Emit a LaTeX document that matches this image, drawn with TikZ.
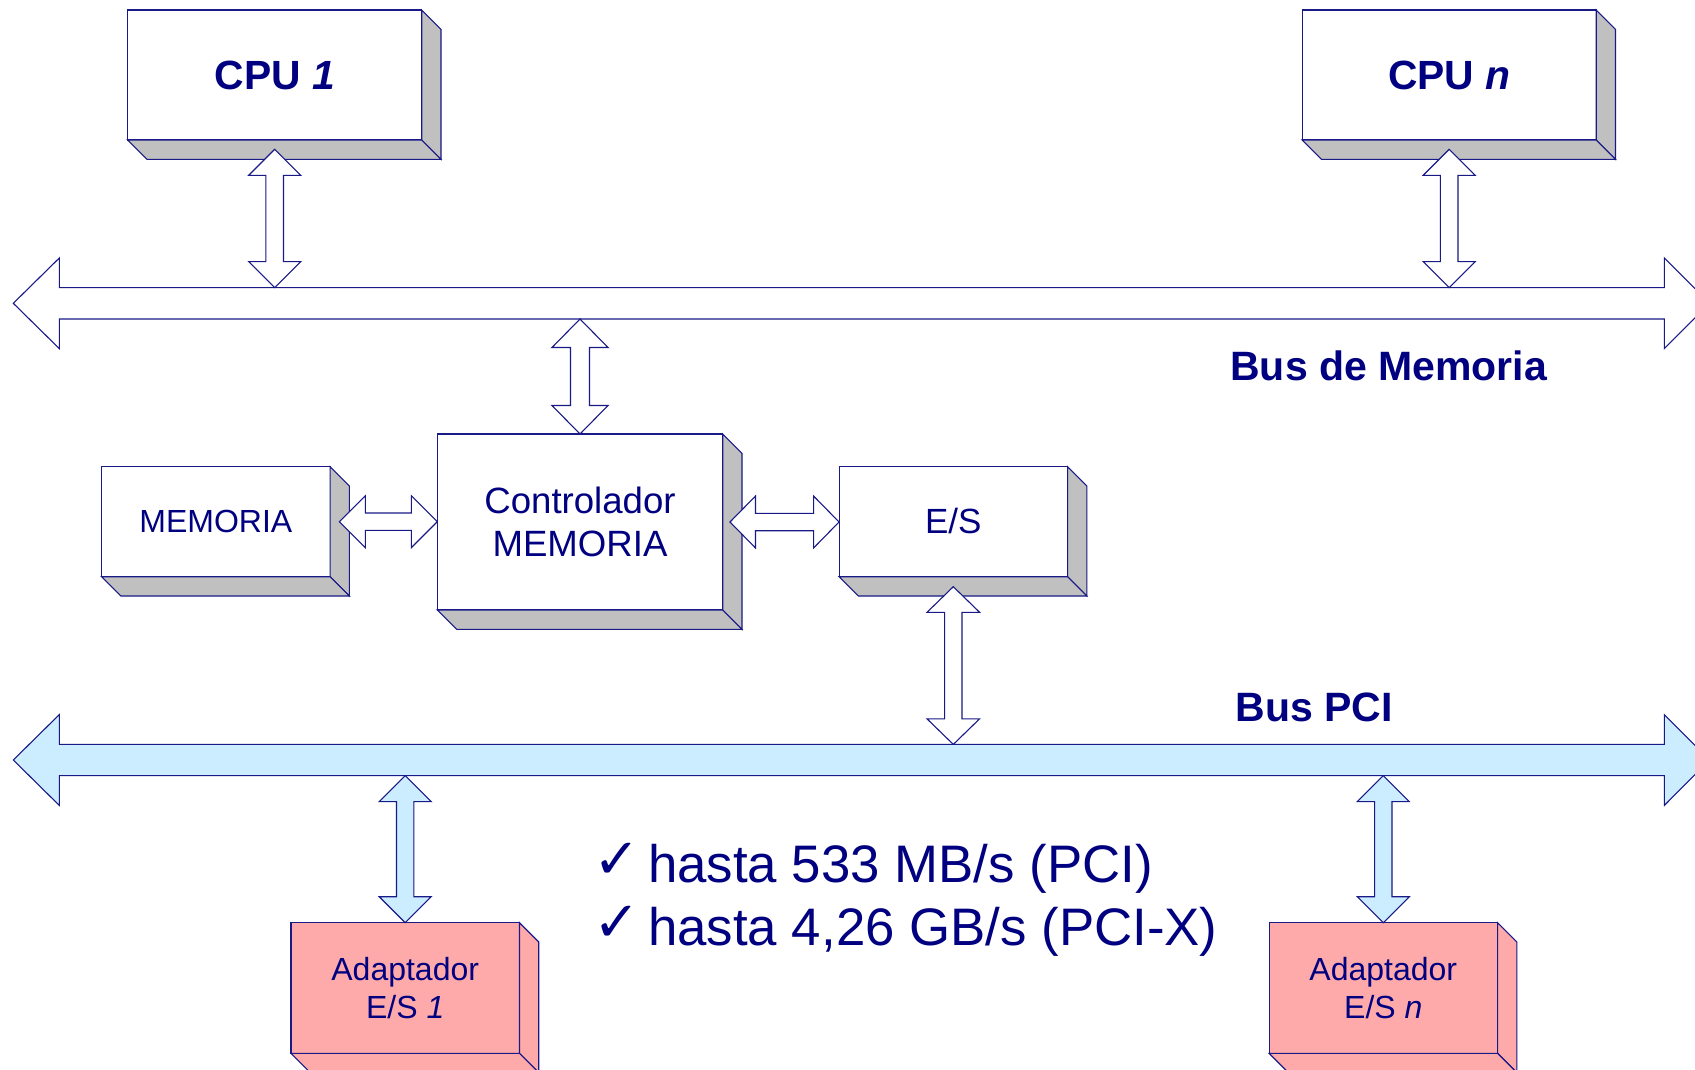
\documentclass[tikz,border=0pt]{standalone}
\usepackage{fontspec}
\setmainfont{Liberation Sans}
\newfontfamily\chkfont{DejaVu Sans}
\usetikzlibrary{calc}
\definecolor{navy}{RGB}{0,0,128}
\definecolor{edge}{RGB}{25,25,135}
\definecolor{shade}{RGB}{192,192,192}
\definecolor{pcib}{RGB}{204,236,255}
\definecolor{pinkbox}{RGB}{255,170,170}
\newcommand\fsz[2]{\fontsize{#1pt}{#2pt}\selectfont}
% 3D side faces of a box node: #1 node name, #2 fill colour
\newcommand\sidefaces[2]{%
  \filldraw[edgeline, fill=#2] (#1.north east) -- ++(19.3pt,-19.3pt)
     -- ([shift={(19.3pt,-19.3pt)}]#1.south east) -- (#1.south east) -- cycle;
  \filldraw[edgeline, fill=#2] (#1.south west) -- (#1.south east)
     -- ([shift={(19.3pt,-19.3pt)}]#1.south east)
     -- ([shift={(19.3pt,-19.3pt)}]#1.south west) -- cycle;
}
% vertical double block arrow: #1 style, #2 top tip, #3 bottom tip, #4 head length, #5 head half width, #6 shaft half width
\newcommand\vbiarrow[6]{%
  \draw[#1] let \p1=#2, \p2=#3 in
    (\x1,\y1) -- (\x1+#5,\y1-#4) -- (\x1+#6,\y1-#4) -- (\x1+#6,\y2+#4)
    -- (\x1+#5,\y2+#4) -- (\x1,\y2) -- (\x1-#5,\y2+#4) -- (\x1-#6,\y2+#4)
    -- (\x1-#6,\y1-#4) -- (\x1-#5,\y1-#4) -- cycle;
}
% horizontal double block arrow: #1 style, #2 left tip, #3 right tip, #4 head length, #5 head half height, #6 shaft half height
\newcommand\hbiarrow[6]{%
  \draw[#1] let \p1=#2, \p2=#3 in
    (\x1,\y1) -- (\x1+#4,\y1+#5) -- (\x1+#4,\y1+#6) -- (\x2-#4,\y1+#6)
    -- (\x2-#4,\y1+#5) -- (\x2,\y1) -- (\x2-#4,\y1-#5) -- (\x2-#4,\y1-#6)
    -- (\x1+#4,\y1-#6) -- (\x1+#4,\y1-#5) -- cycle;
}
\newcommand\chk{\raisebox{4pt}{\chkfont\bfseries\fsz{56}{56}✓}}
\begin{document}
\begin{tikzpicture}[x=1pt,y=1pt,
  edgeline/.style={draw=edge, line width=1.1pt, line join=miter},
  frontbox/.style={edgeline, rectangle, inner sep=0pt, outer sep=0pt,
    text=navy, align=center},
  cpubox/.style={frontbox, fill=white, minimum width=294pt, minimum height=130pt,
    font=\fsz{40.8}{48}\bfseries},
  smallbox/.style={frontbox, fill=white, minimum width=228.5pt, minimum height=110pt},
  adbox/.style={frontbox, fill=pinkbox, minimum width=228.5pt, minimum height=130.6pt,
    font=\fsz{32}{37.7}},
  whitearrow/.style={edgeline, fill=white},
  bluearrow/.style={edgeline, fill=pcib},
  buslabel/.style={anchor=base, text=navy, inner sep=0pt, font=\fsz{41}{48}\bfseries},
  checkline/.style={anchor=base west, text=navy, inner sep=0pt, font=\fsz{52.8}{62}}]

\useasboundingbox (0,0) rectangle (1695,-1069);
\fill[white] (0,0) rectangle (1695,-1069);

% buses
\coordinate (mbtop) at (0,-287.6);
\coordinate (mbbot) at (0,-319);
\coordinate (pcitop) at (0,-744.4);
\coordinate (pcibot) at (0,-775.6);
\draw[edgeline, fill=white] (13.3,-303.3) -- (59.3,-258) -- (59.3,-287.6) -- (1664.3,-287.6)
  -- (1664.3,-258) -- (1709.6,-303.3) -- (1664.3,-348.6) -- (1664.3,-319) -- (59.3,-319)
  -- (59.3,-348.6) -- cycle;
\draw[edgeline, fill=pcib] (13.3,-760) -- (59.3,-714.6) -- (59.3,-744.4) -- (1664.3,-744.4)
  -- (1664.3,-714.6) -- (1709.6,-760) -- (1664.3,-805.4) -- (1664.3,-775.6) -- (59.3,-775.6)
  -- (59.3,-805.4) -- cycle;

% boxes
\node[cpubox] (cpu1) at (274.7,-75) {CPU \textit{1}};
\node[cpubox] (cpun) at (1449.2,-75) {CPU \textit{n}};
\node[smallbox, font=\fsz{32}{38}] (mem) at (215.8,-521.7) {\raisebox{1.5pt}{MEMORIA}};
\node[frontbox, fill=white, minimum width=285.4pt, minimum height=176pt,
  font=\fsz{36.6}{43.3}] (ctrl) at (580,-522) {Controlador\\[-1pt]MEMORIA};
\node[smallbox, font=\fsz{35}{40}] (es) at (953.3,-521.7) {\raisebox{2pt}{E/S}};
\node[adbox] (ad1) at (405.2,-988) {Adaptador\\E/S \textit{1}};
\node[adbox] (adn) at (1383.3,-988) {Adaptador\\E/S \textit{n}};

\sidefaces{cpu1}{shade}
\sidefaces{cpun}{shade}
\sidefaces{mem}{shade}
\sidefaces{ctrl}{shade}
\sidefaces{es}{shade}
\sidefaces{ad1}{pinkbox}
\sidefaces{adn}{pinkbox}

% connectors
\vbiarrow{whitearrow}{($(cpu1.south)+(0,-9.3)$)}{(cpu1.south |- mbtop)}{26pt}{26pt}{8.8pt}
\vbiarrow{whitearrow}{($(cpun.south)+(0,-9.3)$)}{(cpun.south |- mbtop)}{26pt}{26pt}{8.8pt}
\vbiarrow{whitearrow}{(ctrl.north |- mbbot)}{(ctrl.north)}{28.5pt}{28pt}{9.5pt}
\hbiarrow{whitearrow}{($(mem.east)+(9.3,0)$)}{(ctrl.west)}{26pt}{26pt}{8.7pt}
\hbiarrow{whitearrow}{($(ctrl.east)+(7.3,0)$)}{(es.west)}{25.5pt}{26pt}{8.7pt}
\vbiarrow{whitearrow}{($(es.south)+(0,-10)$)}{(es.south |- pcitop)}{25.6pt}{26.3pt}{8.7pt}
\vbiarrow{bluearrow}{(ad1.north |- pcibot)}{(ad1.north)}{26pt}{26pt}{8.7pt}
\vbiarrow{bluearrow}{(adn.north |- pcibot)}{(adn.north)}{26pt}{26pt}{8.7pt}

% labels
\node[buslabel] (mblabel) at (1388.7,-380.7) {Bus de Memoria};
\node[buslabel] (pcilabel) at (1314,-721.5) {Bus PCI};

\node[checkline] (l1) at (593,-882.7)
  {\makebox[55pt][l]{\chk}hasta 533 MB/s (PCI)};
\node[checkline] (l2) at (593,-945)
  {\makebox[55pt][l]{\chk}hasta 4,26 GB/s (PCI-X)};
\end{tikzpicture}
\end{document}
